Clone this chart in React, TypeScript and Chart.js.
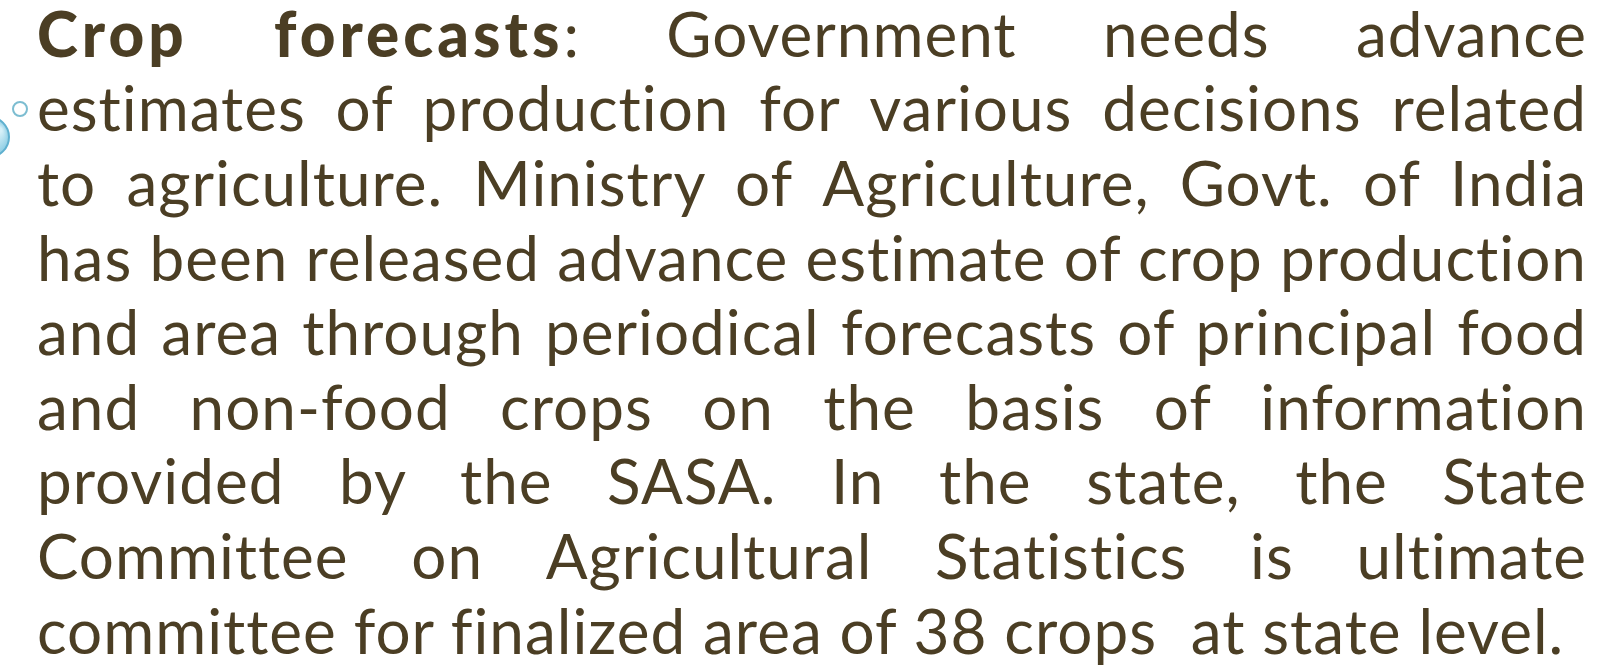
import React, { useEffect, useRef } from "react";
import { Chart, registerables } from "chart.js";

Chart.register(...registerables);

// Decorative bullet circles (page pixel coordinates, radius px)
const bulletX = [20, -11];
const bulletY = [109, 137];
const bulletR = [7, 20];

// Slide text, one array entry per rendered line (words)
const lines: string[][] = [
  ["**Crop", "**forecasts:", "Government", "needs", "advance"],
  ["estimates", "of", "production", "for", "various", "decisions", "related"],
  ["to", "agriculture.", "Ministry", "of", "Agriculture,", "Govt.", "of", "India"],
  ["has", "been", "released", "advance", "estimate", "of", "crop", "production"],
  ["and", "area", "through", "periodical", "forecasts", "of", "principal", "food"],
  ["and", "non-food", "crops", "on", "the", "basis", "of", "information"],
  ["provided", "by", "the", "SASA.", "In", "the", "state,", "the", "State"],
  ["Committee", "on", "Agricultural", "Statistics", "is", "ultimate"],
  ["committee", "for", "finalized", "area", "of", "38", "crops", " at", "state", "level."],
];

const TEXT_COLOR = "#4b3e24";
const FONT = "Lato, 'Noto Sans', sans-serif";
const FONT_SIZE = 62;
const LEFT = 37;
const RIGHT = 1587;
const FIRST_BASELINE = 57;
const LINE_STEP = 74.6;

function Word({ w, last }: { w: string; last: boolean }) {
  if (w.startsWith("**")) {
    const body = w.slice(2);
    const colon = body.endsWith(":");
    return (
      <span>
        <b style={{ fontWeight: 900, letterSpacing: 4 }}>{colon ? body.slice(0, -1) : body}</b>
        {colon ? ":" : ""}
        {last ? "" : " "}
      </span>
    );
  }
  return <span>{w}{last ? "" : " "}</span>;
}

export default function App() {
  const canvasRef = useRef<HTMLCanvasElement | null>(null);

  useEffect(() => {
    document.body.style.margin = "0";
    document.body.style.background = "#ffffff";
    const ctx = canvasRef.current!.getContext("2d")!;
    const chart = new Chart(ctx, {
      type: "bubble",
      data: {
        datasets: [
          {
            data: [{ x: bulletX[0], y: bulletY[0], r: bulletR[0] }],
            backgroundColor: "rgba(255,255,255,0)",
            borderColor: "#7cbdd1",
            borderWidth: 2,
          },
          {
            data: [{ x: bulletX[1], y: bulletY[1], r: bulletR[1] }],
            backgroundColor: (c: any) => {
              const g = c.chart.ctx.createRadialGradient(0, 130, 2, -11, 137, 20);
              g.addColorStop(0, "#d6f0f8");
              g.addColorStop(1, "#8ccde4");
              return g;
            },
            borderColor: "#5fb0cf",
            borderWidth: 2,
          },
        ],
      },
      options: {
        animation: false,
        responsive: false,
        maintainAspectRatio: false,
        layout: { padding: 0, autoPadding: false },
        plugins: { legend: { display: false }, tooltip: { enabled: false }, title: { display: false } },
        scales: {
          x: { type: "linear", min: 0, max: 1612, display: false },
          y: { type: "linear", min: 0, max: 670, reverse: true, display: false },
        },
        elements: { point: { hoverRadius: 0 } },
        clip: false as any,
      },
    });
    return () => chart.destroy();
  }, []);

  return (
    <div style={{ position: "fixed", left: 0, top: 0, width: 1612, height: 670, overflow: "hidden", background: "#fff" }}>
      <canvas ref={canvasRef} width={1612} height={670} style={{ position: "absolute", left: 0, top: 0, width: 1612, height: 670 }} />
      {lines.map((words, i) => {
        const isLast = i === lines.length - 1;
        return (
          <div
            key={i}
            style={{
              position: "absolute",
              left: LEFT,
              width: RIGHT - LEFT,
              top: FIRST_BASELINE + i * LINE_STEP - FONT_SIZE * 0.987 - (LINE_STEP - FONT_SIZE * 1.2) / 2,
              height: LINE_STEP,
              lineHeight: `${LINE_STEP}px`,
              fontFamily: FONT,
              fontSize: FONT_SIZE,
              letterSpacing: 1,
              fontVariantLigatures: "none",
              color: TEXT_COLOR,
              whiteSpace: "pre",
              display: "flex",
              justifyContent: isLast ? "flex-start" : "space-between",
            }}
          >
            {words.map((w, j) => (
              <Word key={j} w={w} last={!isLast && j === words.length - 1} />
            ))}
          </div>
        );
      })}
    </div>
  );
}
